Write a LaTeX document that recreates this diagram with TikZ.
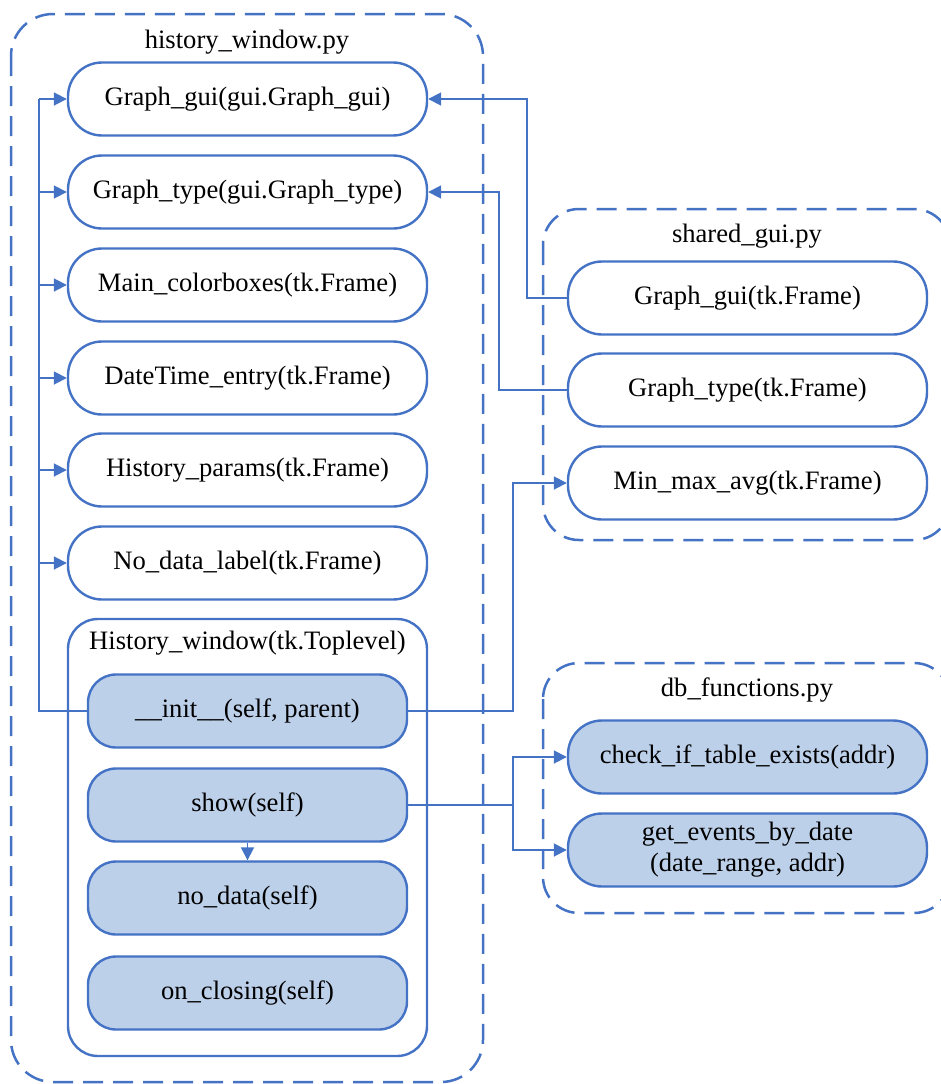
\documentclass[tikz,border=0pt]{standalone}
\usepackage{fontspec}
\setmainfont{Liberation Serif}
\usetikzlibrary{arrows.meta}
\definecolor{edge}{RGB}{68,114,196}
\definecolor{cls}{RGB}{189,208,234}

\begin{document}
\begin{tikzpicture}[x=1pt,y=-1pt,
  font=\fontsize{26.6}{31}\selectfont,
  box/.style={draw=edge, line width=2.4pt, rounded corners=34pt,
    minimum width=359pt, minimum height=73pt, inner sep=0pt,
    fill=white, align=center},
  fn/.style={box, fill=cls, rounded corners=28pt, minimum width=319pt},
  dbfn/.style={box, fill=cls},
  group/.style={draw=edge, line width=2.5pt, dash pattern=on 20pt off 10pt,
    rounded corners=42pt},
  link/.style={draw=edge, line width=1.8pt},
  arr/.style={link, -{Triangle[length=13pt,width=13pt]}},
  title/.style={inner sep=0pt}
]
\useasboundingbox (0,0) rectangle (940,1084);

% module frames
\draw[group] (11,14) rectangle (483,1082);
\draw[group, rounded corners=36pt] (543,209) rectangle (950,540);
\draw[group, rounded corners=36pt] (543,663) rectangle (950,913);

\node[title] (hwtitle) at (247,42) {history\_window.py};
\node[title] (sgtitle) at (747,236) {shared\_gui.py};
\node[title] (dbtitle) at (747,690) {db\_functions.py};

% history_window.py classes
\node[box] (g1) at (247.5,99) {Graph\_gui(gui.Graph\_gui)};
\node[box] (g2) at (247.5,192) {Graph\_type(gui.Graph\_type)};
\node[box] (g3) at (247.5,285) {Main\_colorboxes(tk.Frame)};
\node[box] (g4) at (247.5,378) {DateTime\_entry(tk.Frame)};
\node[box] (g5) at (247.5,470) {History\_params(tk.Frame)};
\node[box] (g6) at (247.5,563) {No\_data\_label(tk.Frame)};

% History_window class with its methods
\draw[draw=edge, line width=2.4pt, rounded corners=30pt] (68,619) rectangle (427,1056);
\node[title] (hwcls) at (247.5,643) {History\_window(tk.Toplevel)};
\node[fn] (init) at (247.5,711) {\_\_init\_\_(self, parent)};
\node[fn] (show) at (247.5,805) {show(self)};
\node[fn] (nodata) at (247.5,898) {no\_data(self)};
\node[fn] (closing) at (247.5,993) {on\_closing(self)};

% shared_gui.py classes
\node[box] (sg1) at (747.5,298) {Graph\_gui(tk.Frame)};
\node[box] (sg2) at (747.5,390) {Graph\_type(tk.Frame)};
\node[box] (mma) at (747.5,483) {Min\_max\_avg(tk.Frame)};

% db_functions.py functions
\node[dbfn] (chk) at (747.5,757) {check\_if\_table\_exists(addr)};
\node[dbfn] (gev) at (747.5,850) {get\_events\_by\_date\\(date\_range, addr)};

% bus coordinates
\coordinate (lbus) at (39,711);
\coordinate (rbus) at (513,711);
\coordinate (dbus) at (513,805);
\coordinate (sbus1) at (527,298);
\coordinate (sbus2) at (499,390);

% __init__ builds the frames on the left
\draw[link, line width=2.3pt] (init.west) -- (lbus) -- (lbus |- g1.west);
\foreach \n in {g1,g2,g3,g4,g5,g6}
  \draw[arr] (lbus |- \n.west) -- (\n.west);
\draw[arr] (init.east) -- (rbus) |- (mma.west);

% shared_gui base classes
\draw[arr] (sg1.west) -- (sbus1) |- (g1.east);
\draw[arr] (sg2.west) -- (sbus2) |- (g2.east);

% show() calls
\draw[link] (show.east) -- (dbus);
\draw[arr] (dbus) |- (chk.west);
\draw[arr] (dbus) |- (gev.west);
\draw[arr] (show.south) -- (nodata.north);
\end{tikzpicture}
\end{document}
